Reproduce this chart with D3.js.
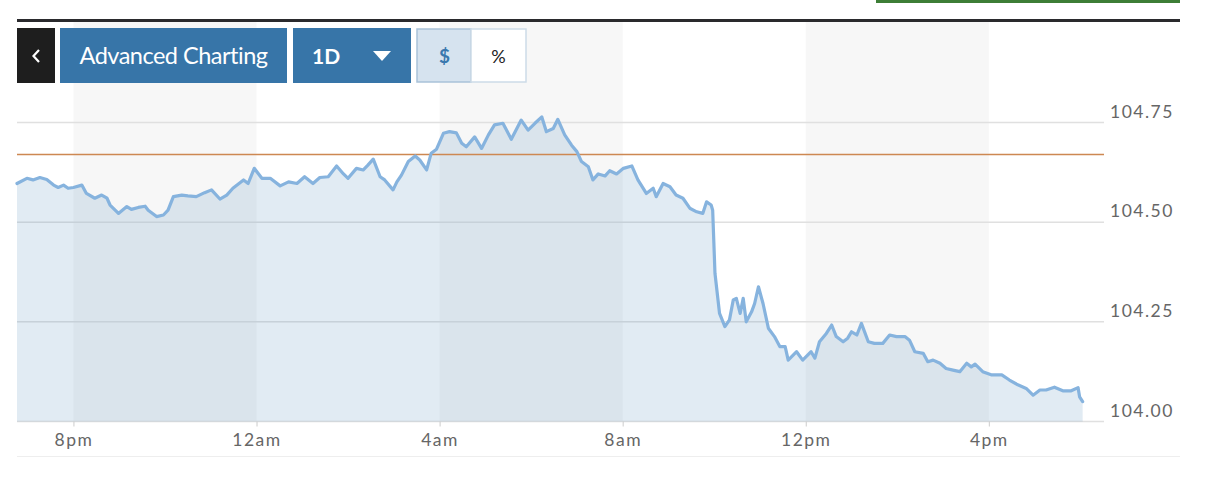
<!DOCTYPE html>
<html>
<head>
<meta charset="utf-8">
<script src="https://cdn.jsdelivr.net/npm/d3@7"></script>
<style>
  html, body { margin: 0; padding: 0; background: #ffffff; }
  svg { display: block; }
  .ylab { font-family: "Lato", "Open Sans", sans-serif; font-size: 17.5px; fill: #666; letter-spacing: 1.5px; }
</style>
</head>
<body>
<svg id="chart" width="1210" height="483"></svg>
<script>
// ---------------- DATA ----------------
const times = ["18:46","18:59","19:07","19:16","19:25","19:34","19:40","19:47","19:53","20:00",
"20:11","20:17","20:28","20:37","20:44","20:48","20:59","21:10","21:16","21:25",
"21:34","21:38","21:49","21:58","22:04","22:11","22:22","22:30","22:41","22:52",
"23:01","23:12","23:21","23:29","23:43","23:49","23:57","00:07","00:18","00:31",
"00:42","00:53","01:03","01:14","01:23","01:34","01:45","01:54","02:00","02:11",
"02:20","02:26","02:33","02:42","02:48","02:59","03:04","03:10","03:19","03:28",
"03:34","03:43","03:49","03:56","04:05","04:13","04:22","04:29","04:35","04:46",
"04:55","05:04","05:12","05:23","05:34","05:47","05:56","06:05","06:14","06:20",
"06:29","06:35","06:44","06:53","07:00","07:06","07:15","07:21","07:28","07:37",
"07:43","07:52","08:01","08:12","08:20","08:31","08:40","08:44","08:53","09:02",
"09:10","09:19","09:28","09:37","09:45","09:50","09:56","09:58","10:01","10:07",
"10:14","10:20","10:25","10:29","10:34","10:38","10:42","10:49","10:53","10:58",
"11:04","11:11","11:19","11:26","11:33","11:37","11:48","11:56","12:07","12:12",
"12:18","12:27","12:34","12:40","12:49","12:55","13:00","13:07","13:13","13:22",
"13:30","13:41","13:50","13:59","14:10","14:16","14:23","14:34","14:40","14:47",
"14:56","15:04","15:13","15:22","15:31","15:37","15:42","15:52","16:03","16:17",
"16:27","16:38","16:49","16:58","17:07","17:15","17:26","17:37","17:48","17:57",
"17:59","18:03"];

const values = [104.597,104.610,104.606,104.612,104.607,104.593,104.587,104.593,104.585,104.587,
104.593,104.572,104.560,104.568,104.560,104.543,104.522,104.539,104.532,104.537,
104.540,104.530,104.514,104.518,104.530,104.564,104.568,104.566,104.564,104.574,
104.581,104.558,104.568,104.585,104.606,104.597,104.635,104.610,104.610,104.591,
104.601,104.597,104.614,104.597,104.612,104.614,104.641,104.621,104.610,104.635,
104.631,104.643,104.658,104.614,104.606,104.581,104.601,104.618,104.652,104.666,
104.656,104.631,104.673,104.683,104.723,104.727,104.724,104.698,104.689,104.714,
104.685,104.719,104.744,104.748,104.708,104.756,104.731,104.748,104.764,104.727,
104.735,104.758,104.719,104.693,104.677,104.652,104.639,104.606,104.621,104.616,
104.629,104.621,104.635,104.641,104.606,104.572,104.585,104.564,104.597,104.589,
104.568,104.560,104.535,104.526,104.522,104.551,104.543,104.530,104.372,104.271,
104.238,104.255,104.305,104.309,104.271,104.309,104.250,104.275,104.296,104.338,
104.296,104.234,104.213,104.188,104.188,104.154,104.175,104.154,104.175,104.159,
104.200,104.221,104.242,104.213,104.200,104.209,104.225,104.217,104.246,104.200,
104.196,104.196,104.217,104.213,104.213,104.204,104.175,104.171,104.150,104.154,
104.146,104.133,104.129,104.125,104.146,104.137,104.144,104.125,104.117,104.117,
104.104,104.092,104.083,104.066,104.079,104.079,104.086,104.077,104.077,104.085,
104.062,104.050];

const referenceLevel = 104.67;          // previous close (orange line)
const yTicks = [104.00, 104.25, 104.50, 104.75];
const xTickTimes = [["20:00",0],["00:00",1],["04:00",1],["08:00",1],["12:00",1],["16:00",1]];
const xTickLabels = ["8pm","12am","4am","8am","12pm","4pm"];
const bandRanges = [[["20:00",0],["00:00",1]], [["04:00",1],["08:00",1]], [["12:00",1],["16:00",1]]];
const domainStart = ["18:46",0];
const domainEnd = ["18:31",1];
const buttonLabels = ["Advanced Charting", "1D", "$", "%"];

// ---------------- HELPERS ----------------
function at(hm, dayOffset) {
  const [h, m] = hm.split(":").map(Number);
  return new Date(2024, 0, 1 + dayOffset, h, m);
}
let dayCount = 0, prevMins = -1;
const data = times.map((t, i) => {
  const [h, m] = t.split(":").map(Number);
  const mins = h * 60 + m;
  if (mins < prevMins) dayCount += 1;
  prevMins = mins;
  return { date: at(t, dayCount), value: values[i] };
});

// ---------------- SCALES ----------------
const plotLeft = 17, plotRight = 1104, plotTop = 122.5, plotBottom = 421.5;
const x = d3.scaleTime().domain([at(...domainStart), at(...domainEnd)]).range([plotLeft, plotRight]);
const y = d3.scaleLinear().domain([104.00, 104.75]).range([plotBottom, plotTop]);

const svg = d3.select("#chart");

// top decorations
svg.append("rect").attr("x", 876).attr("y", 0).attr("width", 304).attr("height", 3).attr("fill", "#3d7e36");
// background bands
svg.append("g").selectAll("rect").data(bandRanges).join("rect")
  .attr("x", d => x(at(...d[0])))
  .attr("width", d => x(at(...d[1])) - x(at(...d[0])))
  .attr("y", 22).attr("height", plotBottom - 22)
  .attr("fill", "#f7f7f7");
svg.append("rect").attr("x", 17).attr("y", 19).attr("width", 1163).attr("height", 3).attr("fill", "#2a2a2d");

// gridlines
svg.append("g").selectAll("line").data(yTicks).join("line")
  .attr("x1", plotLeft).attr("x2", plotRight)
  .attr("y1", d => y(d)).attr("y2", d => y(d))
  .attr("stroke", "#e0e0e0").attr("stroke-width", 1.5);

// area + line
const area = d3.area().x(d => x(d.date)).y0(y(104.00)).y1(d => y(d.value));
svg.append("path").datum(data).attr("d", area).attr("fill", "rgba(70,130,180,0.16)");

svg.append("line").attr("x1", plotLeft).attr("x2", plotRight)
  .attr("y1", y(referenceLevel)).attr("y2", y(referenceLevel))
  .attr("stroke", "#cd8852").attr("stroke-width", 1.5);

const line = d3.line().x(d => x(d.date)).y(d => y(d.value));
svg.append("path").datum(data).attr("d", line)
  .attr("fill", "none").attr("stroke", "#86b3de").attr("stroke-width", 3.2)
  .attr("stroke-linejoin", "round").attr("stroke-linecap", "round");

// y labels
svg.append("g").selectAll("text").data(yTicks).join("text")
  .attr("class", "ylab")
  .attr("x", 1110).attr("y", d => y(d) - 5)
  .text(d => d.toFixed(2));

// x axis ticks & labels
const xAxis = d3.axisBottom(x)
  .tickValues(xTickTimes.map(d => at(...d)))
  .tickFormat((d, i) => xTickLabels[i])
  .tickSize(5).tickSizeOuter(0);
const gx = svg.append("g").attr("transform", `translate(0,${plotBottom})`).call(xAxis);
gx.select(".domain").remove();
gx.selectAll(".tick line").attr("stroke", "#cccccc");
gx.selectAll(".tick text").attr("fill", "#666").attr("dy", null).attr("y", 24)
  .style("font-family", "Lato, 'Open Sans', sans-serif").style("font-size", "17.5px").style("letter-spacing", "1.5px");

svg.append("line").attr("x1", 17).attr("x2", 1180).attr("y1", 456.5).attr("y2", 456.5)
  .attr("stroke", "#eeeeee").attr("stroke-width", 1);

// ---------------- BUTTONS ----------------
const btn = svg.append("g");
btn.append("rect").attr("x", 17).attr("y", 28).attr("width", 38).attr("height", 55).attr("fill", "#1e1e1e");
btn.append("path").attr("d", "M39,50 L33.5,56 L39,62").attr("fill", "none").attr("stroke", "#fff").attr("stroke-width", 2.2);

btn.append("rect").attr("x", 60).attr("y", 28).attr("width", 227).attr("height", 55).attr("fill", "#3775a8");
btn.append("text").attr("x", 173.5).attr("y", 63.5).attr("text-anchor", "middle")
  .style("font-family", "Lato, sans-serif").style("font-size", "23.5px").style("letter-spacing", "-0.5px")
  .attr("fill", "#fff").text(buttonLabels[0]);

btn.append("rect").attr("x", 293).attr("y", 28).attr("width", 118).attr("height", 55).attr("fill", "#3775a8");
btn.append("text").attr("x", 312).attr("y", 63.5)
  .style("font-family", "Lato, sans-serif").style("font-size", "21px").style("font-weight", "bold")
  .attr("fill", "#fff").text(buttonLabels[1]);
btn.append("path").attr("d", "M373,51 L391,51 L382,61 Z").attr("fill", "#fff");

btn.append("rect").attr("x", 417).attr("y", 29).attr("width", 54).attr("height", 53)
  .attr("fill", "#d6e3ef").attr("stroke", "#a9c2d9").attr("stroke-width", 1.5);
btn.append("text").attr("x", 444.5).attr("y", 62.5).attr("text-anchor", "middle")
  .style("font-family", "Lato, sans-serif").style("font-size", "19px").style("font-weight", "bold")
  .attr("fill", "#3a78ae").text(buttonLabels[2]);
btn.append("rect").attr("x", 471).attr("y", 29).attr("width", 55).attr("height", 53)
  .attr("fill", "#ffffff").attr("stroke", "#cddbe8").attr("stroke-width", 1.5);
btn.append("text").attr("x", 498.5).attr("y", 62.5).attr("text-anchor", "middle")
  .style("font-family", "Lato, sans-serif").style("font-size", "18px")
  .attr("fill", "#222").text(buttonLabels[3]);
</script>
</body>
</html>
